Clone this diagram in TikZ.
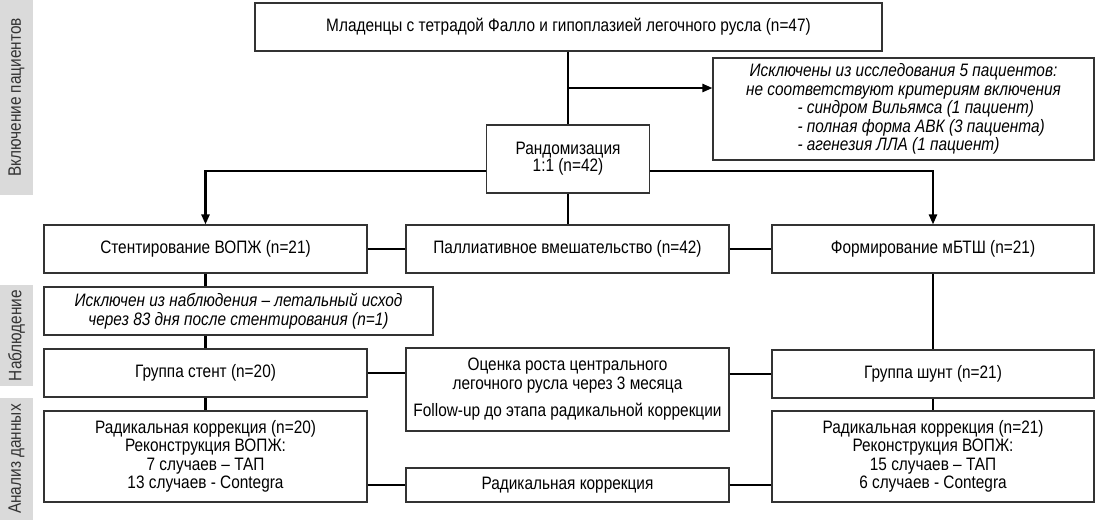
\documentclass[tikz,border=0pt]{standalone}
\usepackage{fontspec}
\setmainfont{Liberation Sans}[FakeStretch=0.855]
\usetikzlibrary{arrows.meta}
\definecolor{bargray}{HTML}{DADADA}
\definecolor{bordergray}{HTML}{333333}
\definecolor{bartext}{HTML}{333333}
\tikzset{
  box/.style={draw=bordergray, line width=1.1pt, fill=white, inner sep=0pt, align=center,
    font=\fontsize{18}{18.5}\selectfont},
  conn/.style={line width=2.3pt, draw=black},
  arr/.style={conn, -{Triangle[length=10pt,width=8pt]}},
  sidebar/.style={fill=bargray, draw=none, inner sep=0pt, text=bartext, rotate=90,
    font=\fontsize{18}{18.5}\selectfont},
}
\begin{document}
\begin{tikzpicture}[x=1pt,y=-1pt]
\useasboundingbox (0,0) rectangle (1096,523);

% side bars
\node[sidebar, minimum width=195pt, minimum height=33pt] (bar1) at (16.5,97.5) {Включение пациентов};
\node[sidebar, minimum width=101pt, minimum height=33pt] (bar2) at (16.5,335.5) {Наблюдение};
\node[sidebar, minimum width=122pt, minimum height=33pt] (bar3) at (16.5,459) {Анализ данных};

% boxes
\node[box, minimum width=627pt, minimum height=48pt] (top) at (568.5,27) {Младенцы с тетрадой Фалло и гипоплазией легочного русла (n=47)};
\node[box, minimum width=381pt, minimum height=102pt] (excl) at (903.5,109) {\itshape Исключены из исследования 5 пациентов:\\
  \itshape не соответствуют критериям включения\\
  \hspace*{28pt}\makebox[240pt][l]{\itshape - синдром Вильямса (1 пациент)}\\
  \hspace*{28pt}\makebox[240pt][l]{\itshape - полная форма АВК (3 пациента)}\\
  \hspace*{28pt}\makebox[240pt][l]{\itshape - агенезия ЛЛА (1 пациент)}};
\node[box, minimum width=163pt, minimum height=68pt, font=\fontsize{18}{17}\selectfont] (rand) at (568,159) {Рандомизация\\1:1 (n=42)};

\node[box, minimum width=323pt, minimum height=48pt] (stent) at (205.5,249) {Стентирование ВОПЖ (n=21)};
\node[box, minimum width=323pt, minimum height=48pt] (pall) at (567.5,249) {Паллиативное вмешательство (n=42)};
\node[box, minimum width=322pt, minimum height=48pt] (form) at (933,249) {Формирование мБТШ (n=21)};

\node[box, minimum width=389pt, minimum height=48pt] (death) at (238.5,311) {\itshape Исключен из наблюдения – летальный исход\\\itshape через 83 дня после стентирования (n=1)};

\node[box, minimum width=323pt, minimum height=48pt] (gstent) at (205.5,373) {Группа стент (n=20)};
\node[box, minimum width=323pt, minimum height=83pt] (ocen) at (567.5,389.5) {Оценка роста центрального\\легочного русла через 3 месяца\\[9pt]Follow-up до этапа радикальной коррекции};
\node[box, minimum width=322pt, minimum height=48pt] (gshunt) at (933,374) {Группа шунт (n=21)};

\node[box, minimum width=323pt, minimum height=91pt] (radl) at (205.5,456.5) {Радикальная коррекция (n=20)\\Реконструкция ВОПЖ:\\7 случаев – ТАП\\13 случаев - Contegra};
\node[box, minimum width=323pt, minimum height=34pt] (radm) at (567.5,485) {Радикальная коррекция};
\node[box, minimum width=322pt, minimum height=91pt] (radr) at (933,456.5) {Радикальная коррекция (n=21)\\Реконструкция ВОПЖ:\\15 случаев – ТАП\\6 случаев - Contegra};

% helper coordinates
\coordinate (jx) at (568,88);
\coordinate (jb) at (0,171);

% connectors
\draw[conn] (rand.north |- top.south) -- (rand.north);
\draw[arr] (jx) -- (excl.west |- jx);
\draw[arr] (rand.west |- jb) -| (stent.north);
\draw[arr] (rand.east |- jb) -| (form.north);
\draw[conn] (rand.south) -- (rand.south |- pall.north);
\draw[conn] (stent.east) -- (pall.west);
\draw[conn] (pall.east) -- (form.west);
\draw[conn] (stent.south) -- (stent.south |- death.north);
\draw[conn] (stent.south |- death.south) -- (gstent.north);
\draw[conn] (gstent.south) -- (radl.north);
\draw[conn] (form.south) -- (gshunt.north);
\draw[conn] (gshunt.south) -- (radr.north);
\draw[conn] (gstent.east) -- (gstent.east -| ocen.west);
\draw[conn] (gshunt.west -| ocen.east) -- (gshunt.west);
\draw[conn] (radm.west -| radl.east) -- (radm.west);
\draw[conn] (radm.east) -- (radm.east -| radr.west);
\end{tikzpicture}
\end{document}
